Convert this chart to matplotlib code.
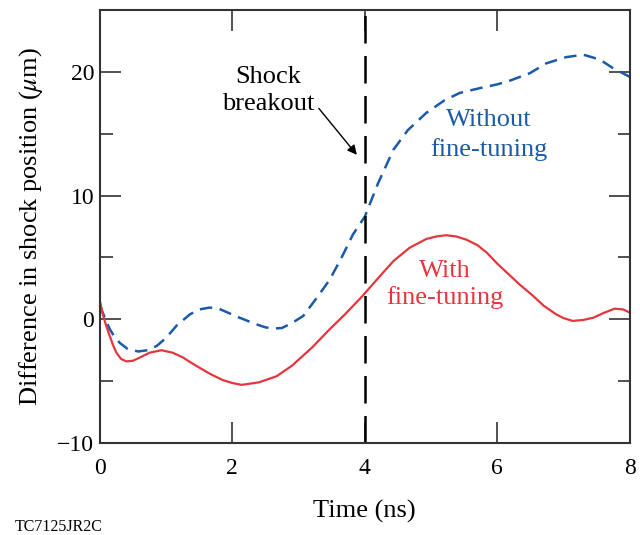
import matplotlib
matplotlib.use('Agg')
import matplotlib.pyplot as plt
from matplotlib.ticker import MultipleLocator

plt.rcParams['font.family'] = ['Liberation Serif', 'DejaVu Serif']
plt.rcParams['mathtext.fontset'] = 'stix'

# values (time in ns, difference in um)
t_with = [0.0, 0.05, 0.10, 0.15, 0.20, 0.25, 0.32, 0.40, 0.50, 0.60, 0.75,
          0.93, 1.10, 1.26, 1.36, 1.50, 1.66, 1.85, 2.00, 2.14, 2.40, 2.67,
          2.90, 3.20, 3.47, 3.70, 3.95, 4.18, 4.43, 4.68, 4.93, 5.08, 5.23,
          5.38, 5.53, 5.70, 5.84, 6.00, 6.14, 6.34, 6.54, 6.70, 6.89, 7.00,
          7.14, 7.30, 7.45, 7.60, 7.77, 7.90, 8.0]
d_with = [1.5, 0.3, -0.6, -1.35, -2.1, -2.7, -3.2, -3.4, -3.35, -3.1, -2.7,
          -2.5, -2.7, -3.1, -3.45, -3.9, -4.4, -4.9, -5.15, -5.3, -5.1, -4.6,
          -3.75, -2.3, -0.8, 0.4, 1.8, 3.2, 4.7, 5.8, 6.5, 6.7, 6.8,
          6.7, 6.45, 6.0, 5.4, 4.5, 3.8, 2.8, 1.9, 1.1, 0.4, 0.1,
          -0.13, -0.05, 0.13, 0.5, 0.86, 0.8, 0.54]

t_without = [0.0, 0.07, 0.15, 0.22, 0.30, 0.42, 0.58, 0.72, 0.86, 1.00, 1.16,
             1.36, 1.50, 1.66, 1.80, 1.95, 2.11, 2.36, 2.50, 2.62, 2.75, 2.90,
             3.07, 3.27, 3.47, 3.65, 3.82, 4.00, 4.20, 4.43, 4.65, 4.93, 5.20,
             5.43, 5.74, 6.00, 6.19, 6.49, 6.74, 7.04, 7.30, 7.55, 7.75, 7.95,
             8.0]
d_without = [1.1, 0.2, -0.8, -1.4, -1.9, -2.4, -2.6, -2.5, -2.15, -1.5, -0.5,
             0.4, 0.8, 0.95, 0.85, 0.5, 0.13, -0.4, -0.65, -0.75, -0.7, -0.3,
             0.27, 1.7, 3.2, 5.0, 6.85, 8.3, 11.0, 13.7, 15.3, 16.7, 17.7,
             18.3, 18.7, 19.0, 19.3, 19.9, 20.7, 21.2, 21.4, 21.0, 20.3, 19.75,
             19.6]

breakout_time = 4.0

blue = '#1a5aa8'
red = '#e5363d'

fig = plt.figure(figsize=(6.4, 5.35), dpi=100)
ax = fig.add_axes([0.156, 0.172, 0.828, 0.809])

ax.plot(t_without, d_without, color=blue, lw=1.8, dashes=(5, 3))
ax.plot(t_with, d_with, color=red, lw=1.6)
ax.axvline(breakout_time, color='black', lw=1.8, dashes=(11, 5))

ax.set_xlim(0, 8)
ax.set_ylim(-10, 25)
ax.xaxis.set_major_locator(MultipleLocator(2))
ax.yaxis.set_major_locator(MultipleLocator(10))
ax.yaxis.set_minor_locator(MultipleLocator(5))
ax.tick_params(which='both', direction='in', top=True, right=True,
               labelsize=17, width=1.2, color='#333333')
ax.tick_params(which='major', length=15)
ax.tick_params(which='minor', length=9)
ax.tick_params(axis='x', pad=11)
ax.tick_params(axis='y', pad=4)
for s in ax.spines.values():
    s.set_linewidth(1.5)
    s.set_color('#333333')

ax.set_xlabel('Time (ns)', fontsize=19, labelpad=15)
ax.set_ylabel(r'Difference in shock position ($\mu$m)', fontsize=19, labelpad=9)

ax.annotate('Shock\nbreakout', xy=(3.88, 13.3), xytext=(2.54, 18.5),
            fontsize=19, ha='center', va='center', linespacing=1.3,
            arrowprops=dict(arrowstyle='-|>', color='black', lw=1.0,
                            shrinkA=2, shrinkB=0, mutation_scale=14,
                            relpos=(1.0, 0.25)))
ax.text(5.87, 14.9, 'Without\nfine-tuning', color=blue, fontsize=19,
        ha='center', va='center', linespacing=1.35)
ax.text(5.21, 2.8, 'With\nfine-tuning', color=red, fontsize=19,
        ha='center', va='center', linespacing=1.2)

fig.text(15 / 640, 1 - 527 / 535, 'TC7125JR2C', fontsize=11.5, ha='left', va='center')

fig.savefig('out.png', dpi=100)
